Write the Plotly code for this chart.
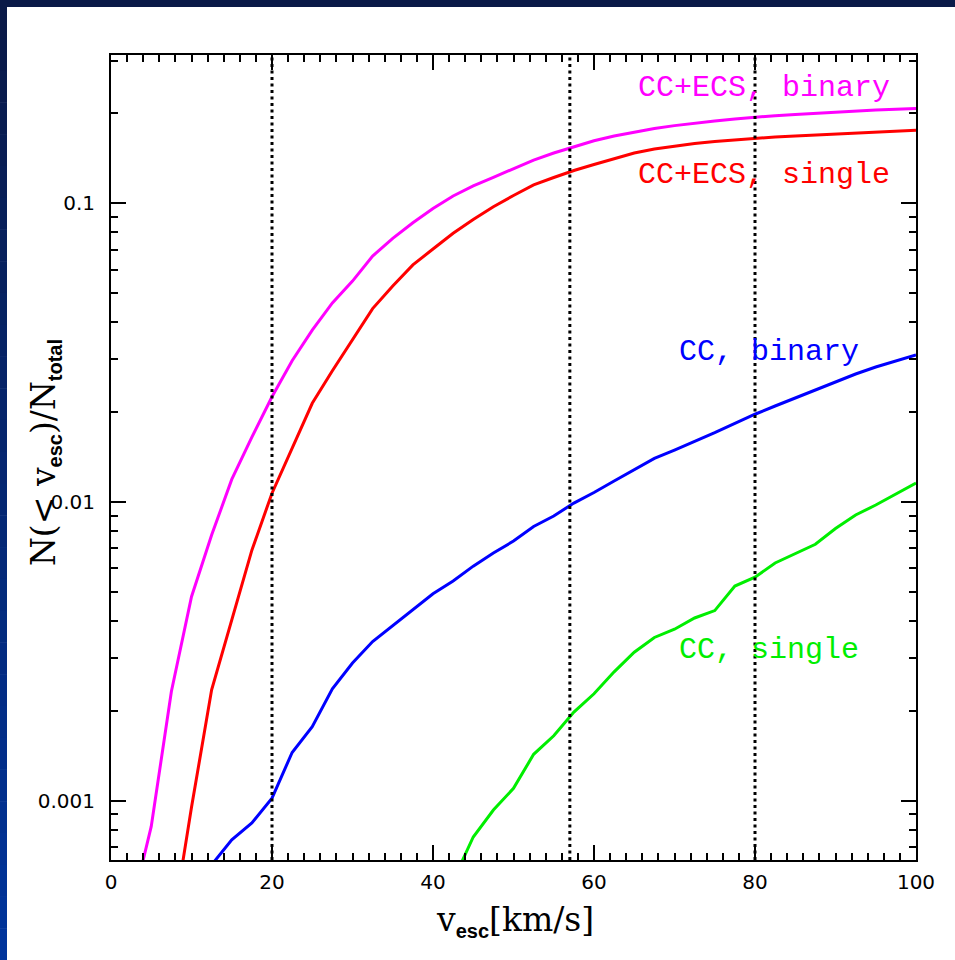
import plotly.graph_objects as go

# ---------------- data ----------------
vesc = [2.5 * i for i in range(1, 41)]  # 2.5 ... 100 km/s

ccecs_binary = [0.00043, 0.00082, 0.00232, 0.00482, 0.00775, 0.0119, 0.0165, 0.0225,
                0.0297, 0.0376, 0.0464, 0.0549, 0.0666, 0.0763, 0.0861, 0.0961,
                0.1058, 0.1143, 0.1222, 0.1308, 0.1396, 0.1474, 0.155, 0.162,
                0.168, 0.1733, 0.178, 0.182, 0.1856, 0.1885, 0.1915, 0.1945,
                0.1965, 0.1984, 0.2004, 0.2023, 0.2038, 0.2054, 0.2066, 0.2077]

ccecs_single = [None, None, 0.00036, 0.00095, 0.00235, 0.00406, 0.0069, 0.0107,
                0.0151, 0.0214, 0.0275, 0.0349, 0.0444, 0.0529, 0.0622, 0.0703,
                0.0794, 0.0883, 0.0974, 0.1062, 0.1152, 0.122, 0.1288, 0.1349,
                0.1413, 0.1473, 0.152, 0.1555, 0.1586, 0.161, 0.1629, 0.1655,
                0.1668, 0.1681, 0.1694, 0.1707, 0.172, 0.1734, 0.1745, 0.1756]

cc_binary = [None, None, None, None, 0.00061, 0.00074, 0.000842, 0.00102,
             0.00145, 0.00177, 0.00237, 0.00289, 0.00341, 0.00386, 0.00438, 0.00493,
             0.00544, 0.0061, 0.00675, 0.0074, 0.00828, 0.00898, 0.00992, 0.01076,
             0.01176, 0.0128, 0.01399, 0.01493, 0.01594, 0.01706, 0.01832, 0.01967,
             0.02096, 0.02228, 0.02371, 0.02531, 0.02682, 0.02831, 0.02965, 0.03105]

cc_single = [None] * 16 + [0.00054, 0.000756, 0.000931, 0.0011, 0.00143, 0.00165,
                           0.00198, 0.00228, 0.0027, 0.00314, 0.00352, 0.00375,
                           0.00409, 0.00433, 0.00523, 0.0056, 0.00625, 0.0067,
                           0.00722, 0.00815, 0.00905, 0.00977, 0.01066, 0.01158]

series_names = ["CC+ECS, binary", "CC+ECS, single", "CC, binary", "CC, single"]
series_colors = ["#ff00ff", "#ff0000", "#0000ff", "#00ee00"]
# label anchor positions (x in km/s, y in log10 units)
label_x = [65.2, 65.2, 70.3, 70.3]
label_logy = [-0.614, -0.905, -1.498, -2.495]

vlines = [20, 57, 80]

y_major = [0.001, 0.01, 0.1]
y_major_text = ["0.001", "0.01", "0.1"]
y_minor = [k * 10.0 ** e for e in (-4, -3, -2, -1) for k in range(2, 10)]

# ---------------- figure ----------------
fig = go.Figure()
for name, ys, col in zip(series_names, [ccecs_binary, ccecs_single, cc_binary, cc_single],
                         series_colors):
    fig.add_trace(go.Scatter(x=vesc, y=ys, mode="lines", name=name,
                             line=dict(color=col, width=3), showlegend=False))

for v in vlines:
    fig.add_shape(type="line", xref="x", yref="paper", x0=v, x1=v, y0=0, y1=1,
                  line=dict(color="black", width=3, dash="3px,3.5px"), layer="above")

for name, col, lx, ly in zip(series_names, series_colors, label_x, label_logy):
    fig.add_annotation(x=lx, y=ly, xref="x", yref="y", text=name, showarrow=False,
                       xanchor="left", yanchor="middle",
                       font=dict(family="Liberation Mono", size=30, color=col))

# slide border (dark blue frame at top and left)
L, R, T, B = 111, 916, 55, 860
W, H = 955, 960
def px(xp):
    return (xp - L) / (R - L)
def py(yp):
    return (B - yp) / (B - T)

fig.add_shape(type="rect", xref="paper", yref="paper", x0=px(0), x1=px(W), y0=py(7), y1=py(0),
              fillcolor="#0a1a48", line=dict(width=0), layer="above")
nseg = 30
for i in range(nseg):
    t = i / (nseg - 1)
    r = int(10 + (0 - 10) * t)
    g = int(26 + (52 - 26) * t)
    b = int(72 + (155 - 72) * t)
    y0 = 7 + (H - 7) * i / nseg
    y1 = 7 + (H - 7) * (i + 1) / nseg
    fig.add_shape(type="rect", xref="paper", yref="paper", x0=px(0), x1=px(7),
                  y0=py(y1 + 0.5), y1=py(y0), fillcolor=f"rgb({r},{g},{b})",
                  line=dict(width=0), layer="above")

SUB = '<sub><span style="font-family:Liberation Sans;font-weight:bold;font-size:20px">{}</span></sub>'

# axis titles as annotations
fig.add_annotation(xref="paper", yref="paper", x=px(515), y=py(921),
                   text="v" + SUB.format("esc") + "[km/s]", showarrow=False,
                   xanchor="center", yanchor="middle",
                   font=dict(family="DejaVu Serif", size=33, color="black"))
fig.add_annotation(xref="paper", yref="paper", x=px(45), y=py(453),
                   text="N(&lt;&nbsp;v" + SUB.format("esc") + ")/N" + SUB.format("total"),
                   showarrow=False, textangle=-90, xanchor="center", yanchor="middle",
                   font=dict(family="DejaVu Serif", size=33, color="black"))

fig.update_xaxes(range=[0, 100], tick0=0, dtick=20, ticks="inside", ticklen=15,
                 tickwidth=1.5, tickcolor="black", showline=True, linewidth=2,
                 linecolor="black", mirror="allticks", showgrid=False, zeroline=False,
                 ticklabelstandoff=3,
                 tickfont=dict(family="DejaVu Sans", size=20, color="black"),
                 minor=dict(ticks="inside", ticklen=7, tickwidth=1.5, tickcolor="black",
                            dtick=2, showgrid=False))
fig.update_yaxes(type="log", range=[-3.1985, -0.5035], tickmode="array",
                 tickvals=y_major, ticktext=y_major_text, ticks="inside", ticklen=15,
                 tickwidth=1.5, tickcolor="black", showline=True, linewidth=2,
                 linecolor="black", mirror="allticks", showgrid=False, zeroline=False,
                 ticklabelstandoff=10,
                 tickfont=dict(family="DejaVu Sans", size=20, color="black"),
                 minor=dict(ticks="inside", ticklen=7, tickwidth=1.5, tickcolor="black",
                            tickmode="array", tickvals=y_minor, showgrid=False))

fig.update_layout(width=W, height=H, autosize=False,
                  margin=dict(l=L, r=W - R, t=T, b=H - B, autoexpand=False),
                  paper_bgcolor="white", plot_bgcolor="white", showlegend=False)

fig.write_html("out.html", config={"displayModeBar": False},
               post_script="document.body.style.margin='0';"
                           "document.body.style.overflow='hidden';")
